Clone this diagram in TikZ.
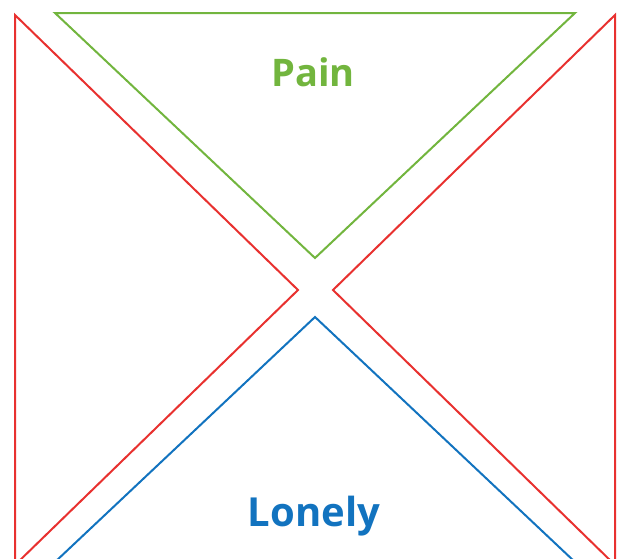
\documentclass[tikz,border=0pt]{standalone}
\usepackage{fontspec}
\setmainfont{Open Sans}
\definecolor{gr}{HTML}{72B53E}
\definecolor{rd}{HTML}{E8312F}
\definecolor{bl}{HTML}{1273BF}
\begin{document}
\begin{tikzpicture}[x=1pt,y=-1pt,
  tri/.style={line width=2pt,line join=miter},
  lab/.style={font=\bfseries\fontsize{38}{40}\selectfont,inner sep=0pt}]
\useasboundingbox (0,0) rectangle (625,558);
\begin{scope}
\clip (0,0) rectangle (625,558);
\draw[tri,gr] (55,13) -- (575,13) -- (315,258) -- cycle;
\draw[tri,rd] (15,15) -- (298,290) -- (15,565) -- cycle;
\draw[tri,rd] (615,15) -- (333,290) -- (615,565) -- cycle;
\draw[tri,bl] (315,317) -- (575,562) -- (55,562) -- cycle;
\end{scope}
\node[lab,text=gr] (pain) at (313,72) {Pain};
\node[lab,text=bl,font=\bfseries\fontsize{40}{42}\selectfont] (lonely) at (314,516) {Lonely};
\end{tikzpicture}
\end{document}
